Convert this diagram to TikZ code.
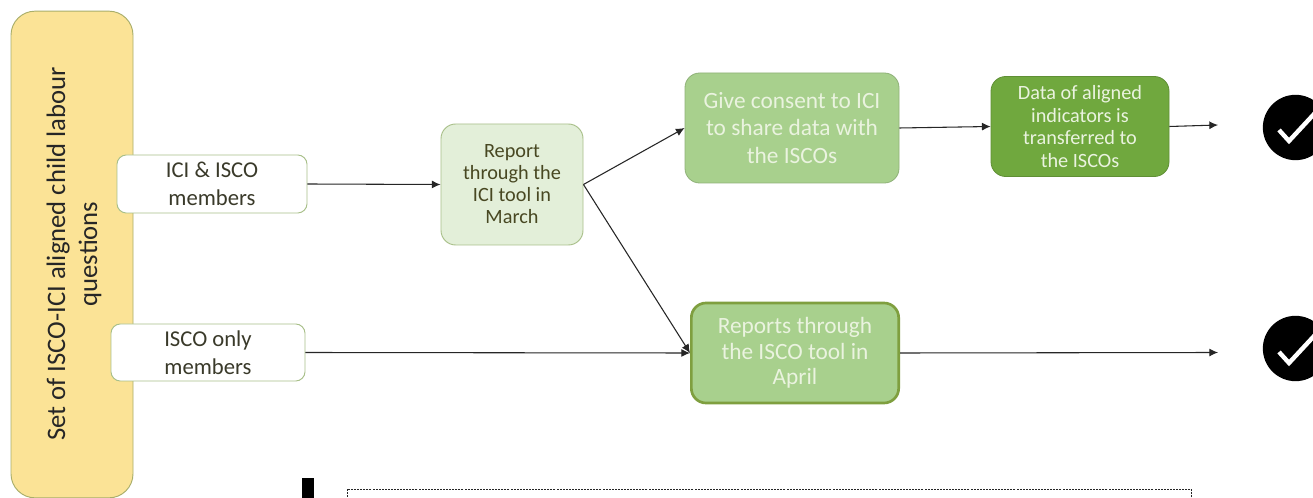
\documentclass[tikz,border=0pt]{standalone}
\usepackage{fontspec}
\setmainfont{Carlito}
\usetikzlibrary{arrows.meta}
\definecolor{yellowfill}{HTML}{FBE396}
\definecolor{yellowline}{HTML}{A9AE6A}
\definecolor{paleline}{HTML}{A9C08A}
\definecolor{palefill}{HTML}{E3EFD9}
\definecolor{midfill}{HTML}{A8D08D}
\definecolor{darkfill}{HTML}{70A83E}
\definecolor{darkline}{HTML}{7F9F3F}
\definecolor{softwhite}{HTML}{EAF3DF}
\definecolor{ink}{HTML}{3A3A2A}
\tikzset{
  x=0.75pt,y=-0.75pt,
  boxbase/.style={rounded corners=11pt,align=center,inner sep=0pt},
  member/.style={boxbase,draw=paleline,line width=0.7pt,fill=white,text=ink,rounded corners=7pt,font=\fontsize{17}{21}\selectfont},
  reportbox/.style={boxbase,draw=paleline,line width=0.7pt,fill=palefill,text=ink!80!olive,font=\fontsize{15.2}{16.5}\selectfont},
  consentbox/.style={boxbase,draw=midfill!85!black,line width=0.6pt,fill=midfill,text=softwhite,font=\fontsize{17.5}{20.6}\selectfont},
  databox/.style={boxbase,draw=darkfill!85!black,line width=0.6pt,fill=darkfill,text=softwhite,font=\fontsize{15.2}{17}\selectfont},
  isobox/.style={boxbase,draw=darkline,line width=2pt,fill=midfill,text=softwhite,font=\fontsize{17.5}{19.2}\selectfont},
  link/.style={draw=black!85,line width=0.8pt,-{Latex[length=6.5pt,width=6pt]}},
  badge/.style={circle,fill=black,draw=none,minimum size=49pt,inner sep=0pt},
  tick/.style={draw=white,line width=3.3pt,line cap=butt,line join=miter}
}
\begin{document}
\begin{tikzpicture}
\useasboundingbox (0,0) rectangle (1313,498);
\clip (0,0) rectangle (1313,498);
\fill[white] (0,0) rectangle (1313,498);
\node[boxbase,draw=yellowline,line width=0.7pt,fill=yellowfill,rounded corners=18pt,minimum width=91.5pt,minimum height=365pt] (set) at (72,254.5) {};
\node[rotate=90,align=center,text=black!85,font=\fontsize{20}{24}\selectfont] (settext) at (74,254) {Set of ISCO-ICI aligned child labour\\questions};
\node[member,minimum width=142.5pt,minimum height=43.5pt] (ici) at (212,184) {ICI \& ISCO\\members};
\node[member,minimum width=145.5pt,minimum height=42.75pt] (isco) at (208,352.5) {ISCO only\\members};
\node[reportbox,minimum width=106.5pt,minimum height=90.75pt] (report) at (512,184.5) {Report\\through the\\ICI tool in\\March};
\node[consentbox,minimum width=160.5pt,minimum height=82.5pt] (consent) at (792,128) {Give consent to ICI\\to share data with\\the ISCOs};
\node[databox,minimum width=133.5pt,minimum height=75pt] (data) at (1080,126.5) {Data of aligned\\indicators is\\transferred to\\the ISCOs};
\node[isobox,minimum width=155.5pt,minimum height=75pt] (tool) at (795,353) {Reports through\\the ISCO tool in\\April};
\coordinate (endtop) at (1218,125);
\coordinate (endbottom) at (1218,352.5);
\draw[link] (ici.east) -- (report.west);
\draw[link] (report.east) -- (consent.west);
\draw[link] (report.east) -- (tool.west);
\draw[link] (isco.east) -- (tool.west);
\draw[link] (consent.east) -- (data.west);
\draw[link] (data.east) -- (endtop);
\draw[link] (tool.east) -- (endbottom);
\node[badge] (cka) at (1295.5,127.5) {};
\node[badge] (ckb) at (1295.5,348.5) {};
\draw[tick] (1279,130) -- (1289,141) -- (1315,113);
\draw[tick] (1279,352) -- (1289,363) -- (1315,335);
\fill[black] (302,478) rectangle (314,498);
\draw[black!85,dash pattern=on 1.5pt off 0.8pt,line width=0.6pt] (347.5,489) rectangle (1191,510);
\end{tikzpicture}
\end{document}
